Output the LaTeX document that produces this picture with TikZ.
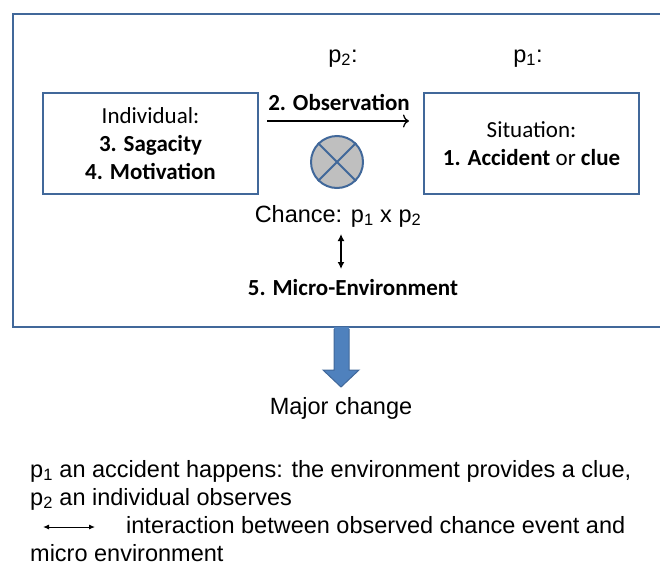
\documentclass[tikz,border=0pt]{standalone}
\usepackage{fontspec}
\setmainfont{Liberation Sans}
\newfontfamily\calibri{Carlito}
\usepackage{tikz}
\usetikzlibrary{arrows,arrows.meta,positioning}
\definecolor{lineblue}{HTML}{41689A}
\definecolor{fillblue}{HTML}{4F81BD}
\definecolor{ballgray}{HTML}{BFBFBF}
\tikzset{
	box/.style={draw=lineblue, line width=2pt, minimum width=215pt, minimum height=101pt,
		align=center, font=\calibri\fontsize{23}{28}\selectfont},
	lbl/.style={font=\fontsize{23.5}{28}\selectfont, anchor=base},
	clbl/.style={font=\calibri\fontsize{23}{28}\selectfont, anchor=base},
	legend/.style={lbl, anchor=base west, inner sep=0pt},
}
\newcommand{\pp}[1]{p\textsubscript{#1}}

\begin{document}
\begin{tikzpicture}[x=1pt, y=-1pt]
			\useasboundingbox (0,0) rectangle (660,565);
			\clip (0,0) rectangle (660,565);
			\node (env) [draw=lineblue, line width=2.5pt, minimum width=670pt, minimum height=313pt] at (348,170.5) {};
			%
			\node (ind) [box] at (150.5,143.5) 	{Individual:\\\textbf{3. Sagacity}\\\textbf{4. Motivation}};
			\node (sit) [box] at (531.5,143.5) 	{Situation:\\\textbf{1. Accident} or \textbf{clue}};
			\node (p2) 	[lbl] at (343,62) 				{\pp{2}:};
			\node (p1) 	[lbl] at (528,62) 				{\pp{1}:};
			\node (obs) [clbl] at (339,110) 			{\textbf{2. Observation}};
			\node (ball) [circle, draw=lineblue, fill=ballgray, line width=2pt, minimum size=52pt] at (337,162) {};
			\node (chance) [lbl] at (338,222) 		{Chance: \pp{1} x \pp{2}};
			\node (micro) [clbl] at (353,295) 		{\textbf{5. Micro-Environment}};
			\node (major) [lbl] at (341,414) 			{Major change};
			%
			\coordinate (o1) at (267,121);
			\coordinate (o2) at (409,121);
			\coordinate (m1) at (341,234);
			\coordinate (m2) at (341,269);
			\draw[-{To[length=6pt,width=13pt]}, line width=1.3pt] (o1) to (o2);
			\draw[lineblue, line width=2pt] (ball.45) -- (ball.225) (ball.135) -- (ball.315);
			\draw[{Latex[length=7pt,width=7pt]}-{Latex[length=7pt,width=7pt]}, line width=1.5pt] (m1) to (m2);
			%
			\fill[fillblue] (334,327) -- (334,370) -- (323,370) -- (341,387) -- (359,370) -- (349,370) -- (349,327) -- cycle;
			\draw[lineblue, line width=1pt] (334,329) -- (334,370) -- (323,370) -- (341,387) -- (359,370) -- (349,370) -- (349,329);
			%
			\node (l1) [legend] at (30,477) {\pp{1} an accident happens: the environment provides a clue,};
			\node (l2) [legend] at (30,505) {\pp{2} an individual observes};
			\node (l3) [legend] at (126,533) {interaction between observed chance event and};
			\node (l4) [legend] at (30,561) {micro environment};
			\coordinate (k1) at (43,527);
			\coordinate (k2) at (95,527);
			\draw[{Latex[length=6pt,width=5pt]}-{Latex[length=6pt,width=5pt]}, line width=1pt] (k1) to (k2);
\end{tikzpicture}
\end{document}
